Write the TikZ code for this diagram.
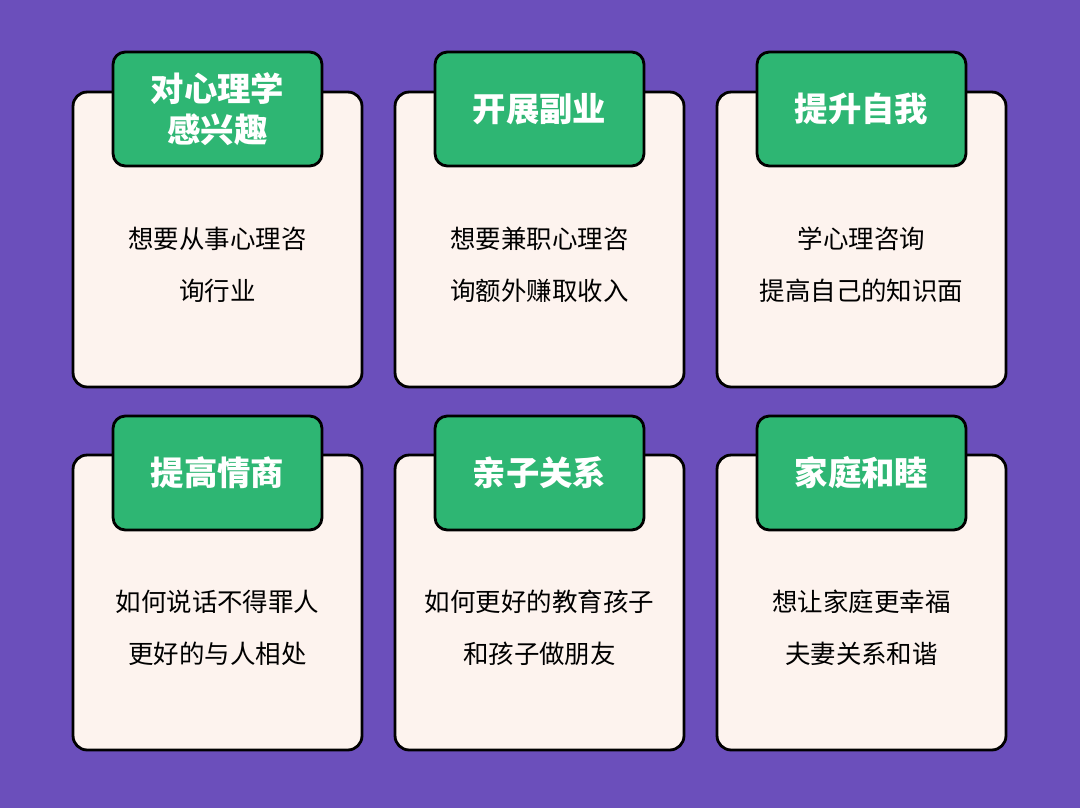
\documentclass[tikz,border=0pt]{standalone}
\usepackage{fontspec}
\setmainfont{Noto Sans CJK SC}
\usetikzlibrary{positioning}
\definecolor{bgpurple}{RGB}{107,79,187}
\definecolor{cardfill}{RGB}{253,243,238}
\definecolor{tabgreen}{RGB}{46,182,115}
\tikzset{
  card/.style={draw=black,line width=1.6pt,fill=cardfill,rounded corners=8pt,minimum width=5.78cm,minimum height=5.9cm,inner sep=0pt},
  tabbox/.style={draw=black,line width=1.6pt,fill=tabgreen,rounded corners=7pt,minimum width=4.18cm,minimum height=2.28cm,inner sep=0pt,
    text=white,font=\fontsize{19}{23}\selectfont\bfseries,align=center},
  bodytext/.style={font=\fontsize{14.5}{29.5}\selectfont,align=center}
}
\begin{document}
\begin{tikzpicture}[x=0.02cm,y=-0.02cm]
  \fill[bgpurple] (0,0) rectangle (1080,808);
  \useasboundingbox (0,0) rectangle (1080,808);
  % cards: column, row, tab title, body text
  \foreach \i/\cx/\cy/\ty/\title/\body in {
      1/217.5/239.5/109/{对心理学\\感兴趣}/{想要从事心理咨\\询行业},
      2/539.5/239.5/109/{开展副业}/{想要兼职心理咨\\询额外赚取收入},
      3/861.5/239.5/109/{提升自我}/{学心理咨询\\提高自己的知识面},
      4/217.5/602.5/473/{提高情商}/{如何说话不得罪人\\更好的与人相处},
      5/539.5/602.5/473/{亲子关系}/{如何更好的教育孩子\\和孩子做朋友},
      6/861.5/602.5/473/{家庭和睦}/{想让家庭更幸福\\夫妻关系和谐}} {
    \node[card] (card\i) at (\cx,\cy) {};
    \node[tabbox] (tab\i) at (\cx,\ty) {\title};
    \node[bodytext] (body\i) at (\cx,\cy+25) {\body};
  }
\end{tikzpicture}
\end{document}
